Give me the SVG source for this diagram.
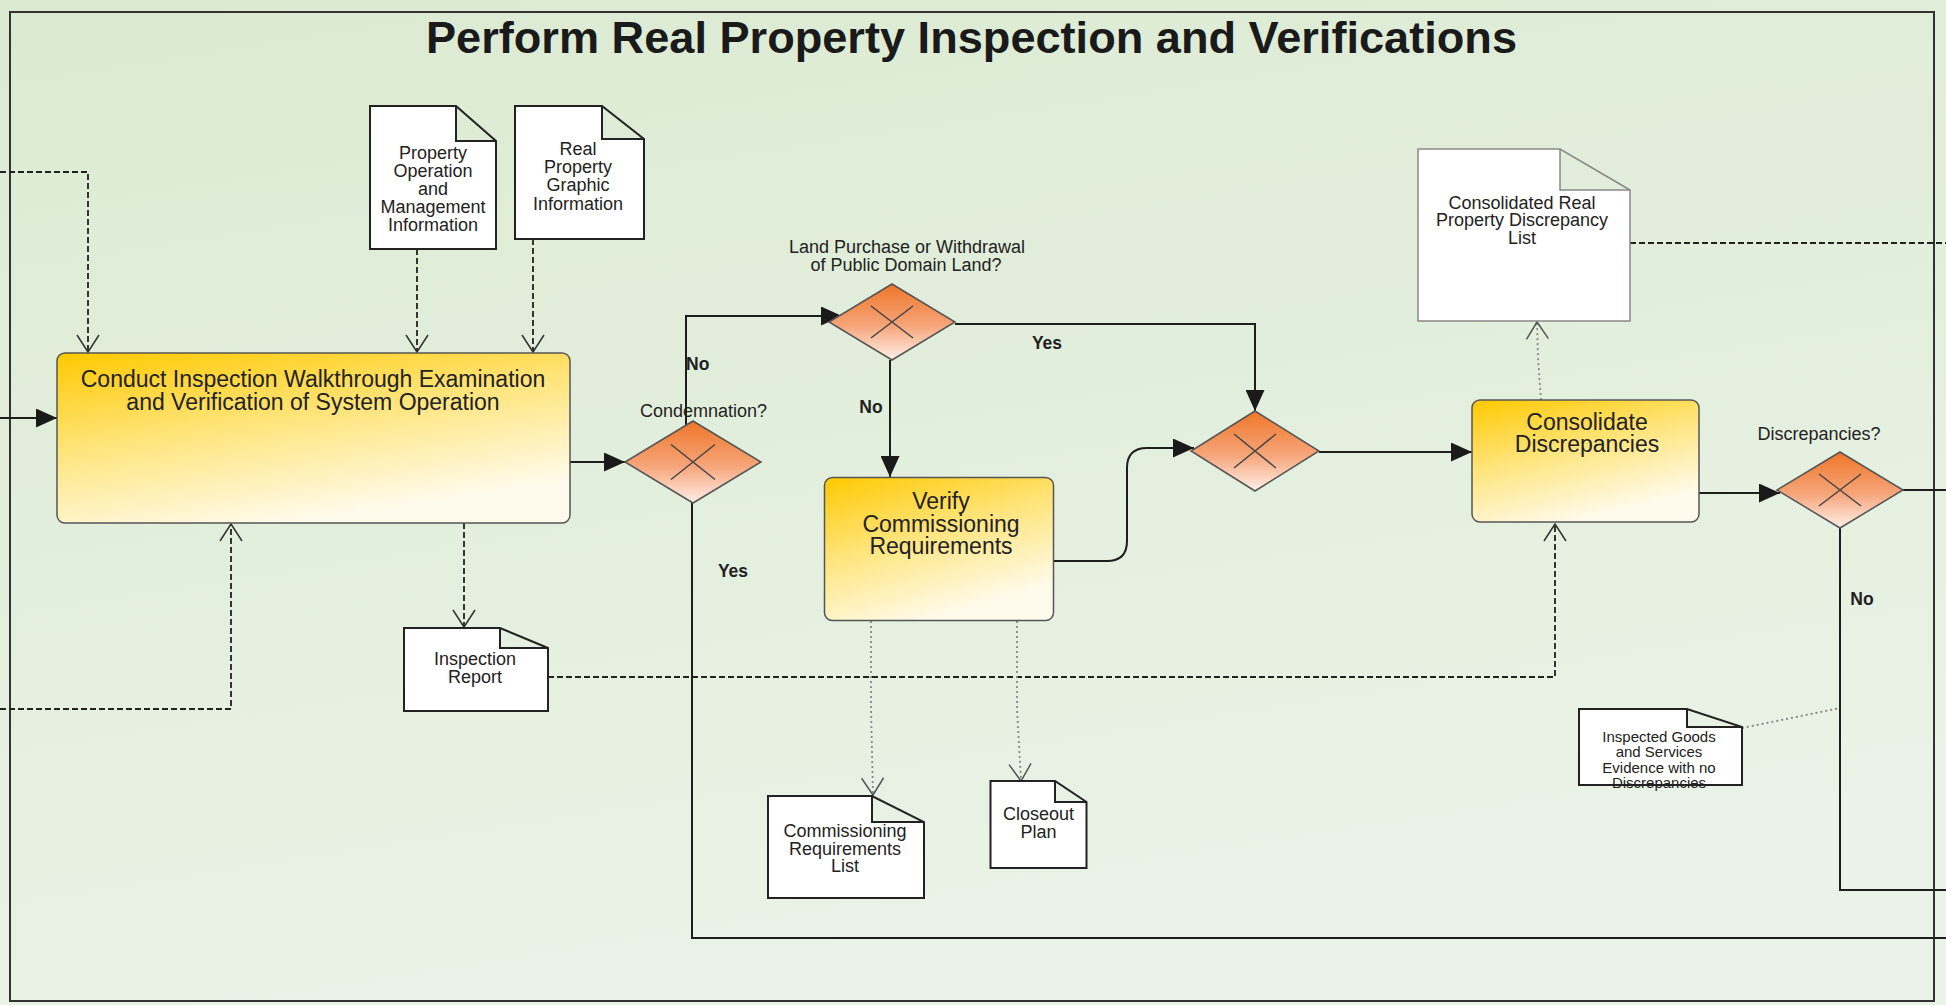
<svg xmlns="http://www.w3.org/2000/svg" width="1946" height="1005" viewBox="0 0 1946 1005">
<defs>
  <linearGradient id="bg" x1="0" y1="0" x2="0.3" y2="1">
    <stop offset="0" stop-color="#DCEAD2"/>
    <stop offset="1" stop-color="#E9F3E7"/>
  </linearGradient>
  <linearGradient id="task" x1="0" y1="0" x2="0.45" y2="1">
    <stop offset="0" stop-color="#FFC900"/>
    <stop offset="0.5" stop-color="#FFE57E"/>
    <stop offset="1" stop-color="#FFFBEC"/>
  </linearGradient>
  <linearGradient id="gw" x1="0" y1="0" x2="0" y2="1">
    <stop offset="0" stop-color="#EF7628"/>
    <stop offset="0.55" stop-color="#F6A57A"/>
    <stop offset="1" stop-color="#FFEFE8"/>
  </linearGradient>
  <marker id="af" markerUnits="userSpaceOnUse" viewBox="0 0 21 19" refX="21" refY="9.5" markerWidth="21" markerHeight="19" orient="auto">
    <path d="M0,0 L21,9.5 L0,19 Z" fill="#1a1a1a"/>
  </marker>
  <marker id="ao" markerUnits="userSpaceOnUse" viewBox="0 0 20 24" refX="18" refY="12" markerWidth="20" markerHeight="24" orient="auto">
    <path d="M1,1 L18,12 L1,23" fill="none" stroke="#333" stroke-width="1.5"/>
  </marker>
  <marker id="ag" markerUnits="userSpaceOnUse" viewBox="0 0 20 24" refX="18" refY="12" markerWidth="20" markerHeight="24" orient="auto">
    <path d="M1,1 L18,12 L1,23" fill="none" stroke="#555" stroke-width="1.5"/>
  </marker>
</defs>
<style>
  text{font-family:"Liberation Sans",Arial,sans-serif;fill:#222}
  .c{text-anchor:middle}
  .title{font-size:44px;font-weight:bold;fill:#1a1a1a}
  .tt{font-size:23px}
  .dt{font-size:18px}
  .sm{font-size:15px}
  .lb{font-size:18px}
  .bl{font-size:17.5px;font-weight:bold}
  .task{fill:url(#task);stroke:#555;stroke-width:1.5}
  .doc{fill:#fff;stroke:#222;stroke-width:2}
  .docg{fill:#fff;stroke:#888;stroke-width:1.5}
  .gw{fill:url(#gw);stroke:#555;stroke-width:1.5}
  .x{stroke:#444;stroke-width:1.5;fill:none}
  .seq{fill:none;stroke:#1e1e1e;stroke-width:2}
  .dash{fill:none;stroke:#222;stroke-width:1.8;stroke-dasharray:6 3}
  .dot{fill:none;stroke:#888;stroke-width:1.8;stroke-dasharray:2 3}
</style>
<rect x="0" y="0" width="1946" height="1005" fill="url(#bg)"/>
<rect id="frame" x="10" y="12" width="1924" height="989" fill="none" stroke="#333" stroke-width="2"/>
<text class="title c" x="971.5" y="52.5" textLength="1091" lengthAdjust="spacingAndGlyphs">Perform Real Property Inspection and Verifications</text>

<g id="connectors">
  <path class="seq" d="M0,418 H57" marker-end="url(#af)"/>
  <path class="dash" d="M0,172 H88 V352" marker-end="url(#ao)"/>
  <path class="dash" d="M417,249 V352" marker-end="url(#ao)"/>
  <path class="dash" d="M533,239 V352" marker-end="url(#ao)"/>
  <path class="dash" d="M0,709 H231 V524" marker-end="url(#ao)"/>
  <path class="dash" d="M464,523 V627" marker-end="url(#ao)"/>
  <path class="dash" d="M548,677 H1555 V524" marker-end="url(#ao)"/>
  <path class="seq" d="M570,462 H625" marker-end="url(#af)"/>
  <path class="seq" d="M686,425 V316 H842" marker-end="url(#af)"/>
  <path class="seq" d="M955,324 H1255 V411" marker-end="url(#af)"/>
  <path class="seq" d="M890,360 V477" marker-end="url(#af)"/>
  <path class="seq" d="M1053,561 H1107 Q1127,561 1127,541 V468 Q1127,448 1147,448 H1194" marker-end="url(#af)"/>
  <path class="seq" d="M1319,452 H1472" marker-end="url(#af)"/>
  <path class="dot" d="M1541,400 L1538,358 L1537,322" marker-end="url(#ag)"/>
  <path class="dash" d="M1630,243 H1946"/>
  <path class="seq" d="M1699,493 H1780" marker-end="url(#af)"/>
  <path class="seq" d="M1903,490 H1946"/>
  <path class="seq" d="M1840,528 V890 H1946"/>
  <path class="dot" d="M1742,728 L1840,708"/>
  <path class="dot" d="M871,621 V708 L873,795" marker-end="url(#ag)"/>
  <path class="dot" d="M1017,621 V709 L1021,781" marker-end="url(#ag)"/>
  <path class="seq" d="M692,503 V938 H1946"/>
  <text class="lb c" x="703.5" y="417">Condemnation?</text>
  <text class="bl" x="686" y="370">No</text>
  <text class="lb c" x="907" y="252.5">Land Purchase or Withdrawal</text>
  <text class="lb c" x="906" y="271">of Public Domain Land?</text>
  <text class="bl c" x="1047" y="349">Yes</text>
  <text class="bl c" x="871" y="413">No</text>
  <text class="bl c" x="733" y="576.5">Yes</text>
  <text class="lb c" x="1819" y="439.5">Discrepancies?</text>
  <text class="bl c" x="1862" y="605">No</text>
</g>

<g id="doc-pomi">
  <path class="doc" d="M370,106 H456 L496,141 V249 H370 Z M456,106 V141 H496"/>
  <text class="dt c" x="433" y="159.3">Property</text>
  <text class="dt c" x="433" y="177.1">Operation</text>
  <text class="dt c" x="433" y="194.9">and</text>
  <text class="dt c" x="433" y="212.7">Management</text>
  <text class="dt c" x="433" y="230.5">Information</text>
</g>
<g id="doc-rpgi">
  <path class="doc" d="M515,106 H602 L644,139 V239 H515 Z M602,106 V139 H644"/>
  <text class="dt c" x="578" y="154.6">Real</text>
  <text class="dt c" x="578" y="172.9">Property</text>
  <text class="dt c" x="578" y="191.2">Graphic</text>
  <text class="dt c" x="578" y="209.5">Information</text>
</g>
<g id="task-inspect">
  <rect class="task" x="57" y="353" width="513" height="170" rx="8"/>
  <text class="tt c" x="313" y="387">Conduct Inspection Walkthrough Examination</text>
  <text class="tt c" x="313" y="410">and Verification of System Operation</text>
</g>
<g id="doc-inspection-report">
  <path class="doc" d="M404,628 H500 L548,648 V711 H404 Z M500,628 V648 H548"/>
  <text class="dt c" x="475" y="665.3">Inspection</text>
  <text class="dt c" x="475" y="683.3">Report</text>
</g>
<g id="gw-condemnation">
  <path class="gw" d="M693,421 L761,462 L693,503 L625,462 Z"/>
  <path class="x" d="M671,444.5 L715,479.5 M715,444.5 L671,479.5"/>
</g>
<g id="gw-land">
  <path class="gw" d="M892,284 L955,322 L892,360 L829,322 Z"/>
  <path class="x" d="M871,306 L913,338 M913,306 L871,338"/>
</g>
<g id="task-verify">
  <rect class="task" x="824.5" y="477.5" width="229" height="143" rx="8"/>
  <text class="tt c" x="941" y="509">Verify</text>
  <text class="tt c" x="941" y="531.5">Commissioning</text>
  <text class="tt c" x="941" y="554">Requirements</text>
</g>
<g id="doc-commissioning">
  <path class="doc" d="M768,796 H872 L924,822 V898 H768 Z M872,796 V822 H924"/>
  <text class="dt c" x="845" y="837">Commissioning</text>
  <text class="dt c" x="845" y="854.5">Requirements</text>
  <text class="dt c" x="845" y="872">List</text>
</g>
<g id="doc-closeout">
  <path class="doc" d="M990.5,781 H1055 L1086.5,802 V868 H990.5 Z M1055,781 V802 H1086.5"/>
  <text class="dt c" x="1038.5" y="820">Closeout</text>
  <text class="dt c" x="1038.5" y="838">Plan</text>
</g>
<g id="gw-merge">
  <path class="gw" d="M1255,411 L1319,451 L1255,491 L1191,451 Z"/>
  <path class="x" d="M1234,434 L1276,468 M1276,434 L1234,468"/>
</g>
<g id="task-consolidate">
  <rect class="task" x="1472" y="400" width="227" height="122" rx="8"/>
  <text class="tt c" x="1587" y="429.5">Consolidate</text>
  <text class="tt c" x="1587" y="452">Discrepancies</text>
</g>
<g id="doc-consolidated-list">
  <path class="docg" d="M1418,149 H1560 L1630,190 V321 H1418 Z M1560,149 V190 H1630"/>
  <text class="dt c" x="1522" y="208.5">Consolidated Real</text>
  <text class="dt c" x="1522" y="226">Property Discrepancy</text>
  <text class="dt c" x="1522" y="243.5">List</text>
</g>
<g id="gw-discrepancies">
  <path class="gw" d="M1840,452 L1903,490 L1840,528 L1777,490 Z"/>
  <path class="x" d="M1819,474 L1861,506 M1861,474 L1819,506"/>
</g>
<g id="doc-inspected-goods">
  <path class="doc" d="M1579,709 H1687 L1742,727 V785 H1579 Z M1687,709 V727 H1742"/>
  <text class="sm c" x="1659" y="742">Inspected Goods</text>
  <text class="sm c" x="1659" y="757.3">and Services</text>
  <text class="sm c" x="1659" y="772.6">Evidence with no</text>
  <text class="sm c" x="1659" y="788">Discrepancies</text>
</g>
</svg>
